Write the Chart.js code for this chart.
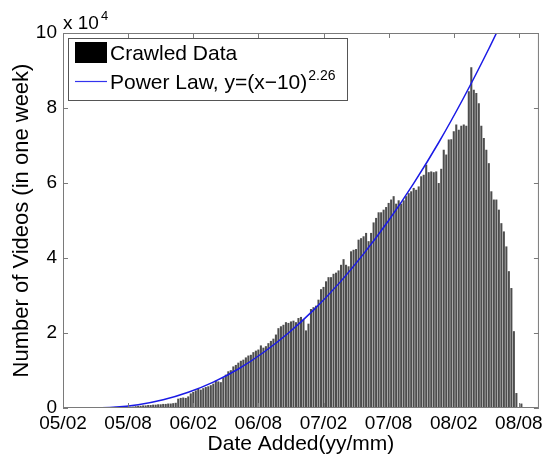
<!DOCTYPE html>
<html>
<head>
<meta charset="utf-8">
<script src="https://cdn.jsdelivr.net/npm/chart.js@4.4.1/dist/chart.umd.min.js"></script>
<style>
  html, body { margin: 0; padding: 0; background: #fff; }
  #wrap { width: 547px; height: 459px; }
</style>
</head>
<body>
<div id="wrap"><canvas id="videoChart"></canvas></div>
<script>
// x axis is weeks since 05/02 (Feb 2005)
const tickWeeks = [0, 26, 52, 78, 104, 130, 156, 182];
const tickLabels = ['05/02', '05/08', '06/02', '06/08', '07/02', '07/08', '08/02', '08/08'];
const yTicks = [0, 2, 4, 6, 8, 10];

// videos uploaded per week, in units of 10^4, weeks 1..182
const weeklyVideos = [
  0, 0, 0, 0, 0, 0, 0, 0, 0, 0.005,
  0.01, 0.01, 0.01, 0.01, 0.01, 0.01, 0.01, 0.015, 0.015, 0.015,
  0.02, 0.02, 0.02, 0.02, 0.02, 0.025, 0.025, 0.03, 0.04, 0.05,
  0.05, 0.06, 0.06, 0.07, 0.07, 0.08, 0.08, 0.09, 0.09, 0.10,
  0.10, 0.11, 0.11, 0.12, 0.13, 0.24, 0.26, 0.27, 0.26, 0.30,
  0.38, 0.42, 0.46, 0.50, 0.48, 0.52, 0.55, 0.57, 0.60, 0.64,
  0.72, 0.70, 0.68, 0.80, 0.88, 0.97, 1.00, 1.10, 1.14, 1.20,
  1.25, 1.28, 1.34, 1.39, 1.41, 1.48, 1.52, 1.55, 1.66, 1.60,
  1.64, 1.72, 1.78, 1.84, 1.95, 2.12, 2.17, 2.21, 2.28, 2.26,
  2.30, 2.32, 2.28, 2.39, 2.42, 2.35, 2.06, 2.24, 2.63, 2.68,
  2.72, 2.88, 3.16, 3.22, 3.37, 3.48, 3.48, 3.57, 3.60, 3.66,
  3.81, 3.96, 3.81, 3.77, 4.17, 4.21, 4.23, 4.48, 4.52, 4.57,
  4.66, 4.44, 4.66, 4.94, 5.06, 5.21, 5.21, 5.28, 5.35, 5.46,
  5.55, 5.64, 5.44, 5.53, 5.44, 5.53, 5.64, 5.72, 5.77, 5.86,
  5.81, 5.90, 6.17, 6.21, 6.48, 6.28, 6.30, 6.28, 6.30, 5.99,
  6.37, 6.88, 6.75, 7.15, 7.16, 7.37, 7.55, 7.41, 7.52, 7.55,
  7.52, 8.44, 9.08, 8.48, 8.39, 8.12, 7.52, 7.19, 6.88, 6.52,
  5.77, 5.55, 5.55, 5.28, 4.92, 4.70, 4.30, 3.64, 3.19, 2.04,
  0.39, 0, 0.11
];

// power law fit y=(x-10)^2.26 (units of 10^4)
const fitWeeks = [10, 20, 30, 40, 50, 60, 70, 80, 90, 100, 110, 120, 130, 140, 150, 160, 170, 175];
const fitValues = [0, 0.018, 0.087, 0.218, 0.418, 0.69, 1.04, 1.48, 2.0, 2.61, 3.31, 4.11, 5.0, 5.99, 7.08, 8.28, 9.58, 10.27];

const FONT = '"Liberation Sans", Arial, Helvetica, sans-serif';
const AXIS_GREY = '#7a7a7a';

// box, inward ticks, exponent and legend drawn like the matlab figure
const matlabFrame = {
  id: 'matlabFrame',
  afterDraw(chart) {
    const ctx = chart.ctx;
    const a = chart.chartArea;
    const xs = chart.scales.x, ys = chart.scales.y;
    ctx.save();
    ctx.strokeStyle = AXIS_GREY;
    ctx.lineWidth = 1;
    ctx.strokeRect(a.left + 0.5, a.top + 0.5, a.right - a.left - 1, a.bottom - a.top - 1);
    ctx.beginPath();
    tickWeeks.forEach(w => {
      const px = Math.round(xs.getPixelForValue(w)) + 0.5;
      ctx.moveTo(px, a.bottom); ctx.lineTo(px, a.bottom - 5);
      ctx.moveTo(px, a.top); ctx.lineTo(px, a.top + 5);
    });
    yTicks.forEach(v => {
      const py = Math.round(ys.getPixelForValue(v)) + 0.5;
      ctx.moveTo(a.left, py); ctx.lineTo(a.left + 5, py);
      ctx.moveTo(a.right, py); ctx.lineTo(a.right - 5, py);
    });
    ctx.stroke();

    // "x 10^4" exponent above the y axis
    ctx.fillStyle = '#000';
    ctx.textBaseline = 'alphabetic';
    ctx.textAlign = 'left';
    ctx.font = '19px ' + FONT;
    ctx.fillText('x 10', a.left, 29);
    ctx.font = '13px ' + FONT;
    ctx.fillText('4', a.left + 38, 20);

    // legend box
    const lx = 68, ly = 38, lw = 279, lh = 62;
    ctx.fillStyle = '#fff';
    ctx.fillRect(lx, ly, lw, lh);
    ctx.strokeStyle = '#555';
    ctx.strokeRect(lx + 0.5, ly + 0.5, lw, lh);
    ctx.fillStyle = '#000';
    ctx.fillRect(75, 42, 32, 21);
    ctx.strokeStyle = '#3333ee';
    ctx.lineWidth = 1.2;
    ctx.beginPath();
    ctx.moveTo(75, 81.5); ctx.lineTo(107, 81.5);
    ctx.stroke();
    ctx.fillStyle = '#000';
    ctx.textBaseline = 'middle';
    ctx.font = '21px ' + FONT;
    ctx.fillText('Crawled Data', 110, 54);
    const powerText = 'Power Law, y=(x\u221210)';
    ctx.fillText(powerText, 110, 83);
    const w = ctx.measureText(powerText).width;
    ctx.font = '14px ' + FONT;
    ctx.fillText('2.26', 110 + w + 1, 76);
    ctx.restore();
  }
};

const ctx = document.getElementById('videoChart').getContext('2d');
new Chart(ctx, {
  data: {
    datasets: [
      {
        type: 'line',
        label: 'Power Law, y=(x-10)^2.26',
        data: fitWeeks.map((w, i) => ({ x: w, y: fitValues[i] })),
        borderColor: '#1a1ae6',
        borderWidth: 1.5,
        pointRadius: 0,
        cubicInterpolationMode: 'monotone',
        order: 0
      },
      {
        type: 'bar',
        label: 'Crawled Data',
        data: weeklyVideos.map((v, i) => ({ x: i + 1, y: v })),
        backgroundColor: '#4d4d4d',
        barThickness: 1.4,
        order: 1
      }
    ]
  },
  options: {
    responsive: true,
    maintainAspectRatio: false,
    animation: false,
    layout: { padding: { top: 33, right: 8, left: 0, bottom: 0 } },
    plugins: {
      legend: { display: false },
      tooltip: { enabled: false }
    },
    scales: {
      x: {
        type: 'linear',
        min: 0,
        max: 190,
        offset: false,
        grid: { display: false, drawTicks: false },
        border: { display: false },
        afterBuildTicks: s => { s.ticks = tickWeeks.map(v => ({ value: v })); },
        afterFit: s => { s.height = 51; },
        ticks: {
          autoSkip: false,
          maxRotation: 0,
          padding: 4,
          color: '#000',
          font: { family: FONT, size: 19 },
          callback: v => tickLabels[tickWeeks.indexOf(v)]
        },
        title: {
          display: true,
          text: 'Date Added(yy/mm)',
          color: '#000',
          font: { family: FONT, size: 21 },
          padding: { top: 0, bottom: 2 }
        }
      },
      y: {
        min: 0,
        max: 10,
        grid: { display: false, drawTicks: false },
        border: { display: false },
        afterBuildTicks: s => { s.ticks = yTicks.map(v => ({ value: v })); },
        afterFit: s => { s.width = 63; },
        ticks: {
          padding: 6,
          color: '#000',
          font: { family: FONT, size: 19 }
        },
        title: {
          display: true,
          text: 'Number of Videos (in one week)',
          color: '#000',
          font: { family: FONT, size: 22 },
          padding: { top: 9, bottom: 0 }
        }
      }
    }
  },
  plugins: [matlabFrame]
});
</script>
</body>
</html>
